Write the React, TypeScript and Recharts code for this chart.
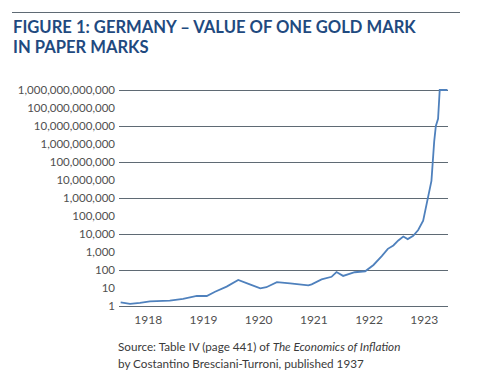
import { LineChart, Line, XAxis, YAxis, CartesianGrid } from "recharts";

// decimal year of each reading
const dates = [
  1918.0, 1918.17, 1918.35, 1918.53, 1918.89, 1919.13, 1919.38, 1919.56, 1919.71, 1919.92,
  1920.13, 1920.34, 1920.53, 1920.64, 1920.83, 1921.07, 1921.4, 1921.46, 1921.64, 1921.82,
  1921.91, 1922.03, 1922.24, 1922.43, 1922.58, 1922.73, 1922.84, 1922.94, 1923.03, 1923.12,
  1923.2, 1923.3, 1923.39, 1923.48, 1923.63, 1923.68, 1923.71, 1923.75, 1923.78, 1923.92,
];

// paper marks for one gold mark
const paperMarks = [
  1.6, 1.3, 1.5, 1.8, 2.0, 2.5, 3.6, 3.6, 6.2, 12,
  28, 16, 9.6, 11, 21, 18, 14, 16, 30, 42,
  77, 47, 75, 85, 190, 590, 1500, 2300, 4400, 7200,
  5200, 7900, 16600, 55000, 9e6, 1.4e9, 1e10, 2.5e10, 1e12, 1e12,
];

const yearLabels = ["1918", "1919", "1920", "1921", "1922", "1923"];
const valueTicks = [1, 10, 100, 1e3, 1e4, 1e5, 1e6, 1e7, 1e8, 1e9, 1e10, 1e11, 1e12];

const data = dates.map((d, i) => ({ date: d, value: paperMarks[i] }));

const TITLE_BLUE = "#1f4a80";
const GRID = "#5f6a74";
const LINE_BLUE = "#4f81bd";
const TICK_GREY = "#505050";

export default function App() {
  return (
    <div
      style={{
        position: "absolute",
        left: 0,
        top: 0,
        width: 487,
        height: 375,
        background: "#fff",
        fontFamily: "Lato, sans-serif",
      }}
    >
      <div style={{ position: "absolute", left: 12, top: 12, width: 448, height: 1, background: GRID }} />
      <div
        style={{
          position: "absolute",
          left: 13,
          top: 18,
          color: TITLE_BLUE,
          fontWeight: 700,
          fontSize: 16.6,
          lineHeight: "19.5px",
        }}
      >
        FIGURE 1: GERMANY – VALUE OF ONE GOLD MARK
        <br />
        IN PAPER MARKS
      </div>

      <div style={{ position: "absolute", left: 0, top: 0 }}>
        <LineChart width={487} height={375} data={data} margin={{ top: 90, right: 39, bottom: 39, left: 0 }}>
          <CartesianGrid vertical={false} stroke={GRID} strokeWidth={1} shapeRendering="crispEdges" />
          <XAxis
            dataKey="date"
            type="number"
            domain={[1917.97, 1923.93]}
            ticks={yearLabels.map((y) => Number(y) + 0.5)}
            tickFormatter={(v: number) => String(Math.floor(v))}
            axisLine={false}
            tickLine={false}
            tickSize={0}
            tickMargin={9}
            height={30}
            tick={{ fill: TICK_GREY, fontSize: 12 }}
          />
          <YAxis
            dataKey="value"
            scale="log"
            domain={[1, 1e12]}
            ticks={valueTicks}
            tickFormatter={(v: number) => v.toLocaleString("en-US")}
            axisLine={false}
            tickLine={false}
            tickSize={0}
            tickMargin={4}
            width={119}
            tick={{ fill: TICK_GREY, fontSize: 11.5 }}
          />
          <Line
            type="linear"
            dataKey="value"
            stroke={LINE_BLUE}
            strokeWidth={1.8}
            dot={false}
            isAnimationActive={false}
          />
        </LineChart>
      </div>

      <div
        style={{
          position: "absolute",
          left: 118,
          top: 338,
          color: "#3a3a3a",
          fontSize: 11.7,
          lineHeight: "16.5px",
        }}
      >
        Source: Table IV (page 441) of <i>The Economics of Inflation</i>
        <br />
        by Costantino Bresciani-Turroni, published 1937
      </div>
    </div>
  );
}
